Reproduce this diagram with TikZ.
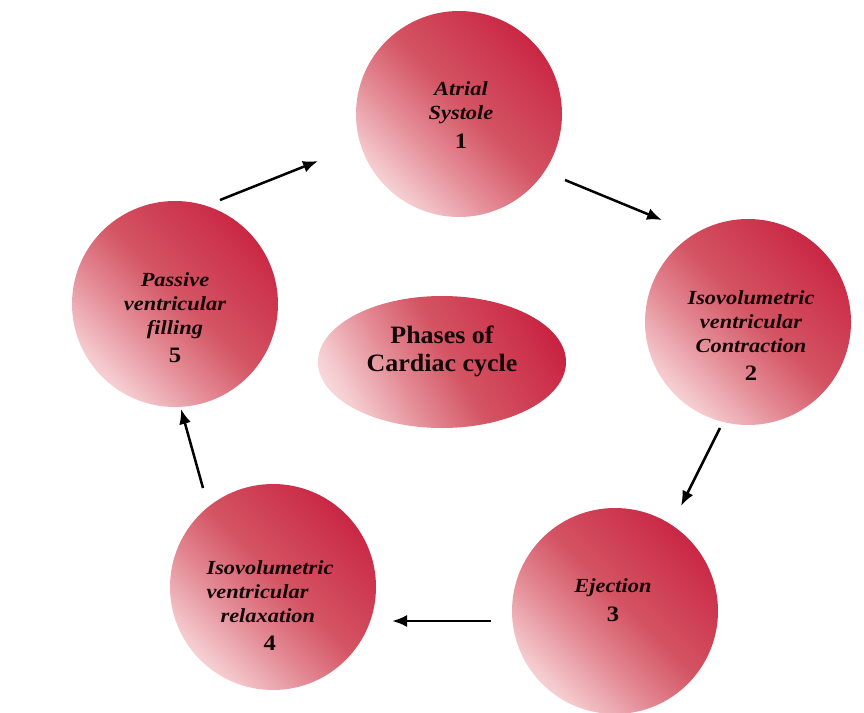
\documentclass[tikz,border=0pt]{standalone}
\usepackage{fontspec}
\setmainfont{Liberation Serif}
\newfontfamily\lblfont[FakeStretch=1.12]{Liberation Serif}
\newfontfamily\hubfont[FakeStretch=1.04]{Liberation Serif}
\usetikzlibrary{shapes.geometric,arrows.meta}
\definecolor{ctext}{RGB}{20,5,8}
\pgfdeclareverticalshading{redball}{100bp}{
  rgb(0bp)=(0.992,0.957,0.957);
  rgb(14bp)=(0.992,0.957,0.957);
  rgb(26bp)=(0.960,0.800,0.815);
  rgb(39bp)=(0.894,0.549,0.588);
  rgb(52bp)=(0.831,0.333,0.392);
  rgb(70bp)=(0.800,0.196,0.294);
  rgb(86bp)=(0.769,0.055,0.212);
  rgb(100bp)=(0.769,0.055,0.212)}
\tikzset{
  phase/.style={circle, minimum size=206pt, inner sep=0pt, draw=none,
    shading=redball, shading angle=-45},
  hub/.style={ellipse, minimum width=248pt, minimum height=132pt, inner sep=0pt, draw=none,
    shading=redball, shading angle=-60},
  lbl/.style={text=ctext, align=center, font=\lblfont\fontsize{20}{24}\selectfont\bfseries\itshape},
  lbll/.style={lbl, align=left},
  hubtxt/.style={text=ctext, align=center, font=\hubfont\fontsize{25}{28}\selectfont\bfseries},
  arr/.style={line width=2.5pt, -{Latex[length=15pt,width=12pt]}}
}
\newcommand{\phnum}[1]{{\fontsize{22}{24}\selectfont\upshape #1}}
\begin{document}
\begin{tikzpicture}[x=1pt,y=-1pt]
\useasboundingbox (0,0) rectangle (864,712);
\clip (0,0) rectangle (864,712);
% circles
\node[phase] (p1) at (459,114) {};
\node[phase] (p2) at (748,322) {};
\node[phase] (p3) at (615,611) {};
\node[phase] (p4) at (273,587) {};
\node[phase] (p5) at (175,304) {};
\node[hub] (hub) at (442,362) {};
% texts
\node[lbl] (t1) at (461,115) {Atrial\\Systole\\[5pt]\phnum{1}};
\node[lbl] (t2) at (751,336) {Isovolumetric\\ventricular\\Contraction\\[4pt]\phnum{2}};
\node[lbl] (t3) at (613,600) {Ejection\\[5pt]\phnum{3}};
\node[lbll] (t4) at (270,606) {Isovolumetric\\ventricular\\\hspace*{14pt}relaxation\\[4pt]\hspace*{57pt}\phnum{4}};
\node[lbl] (t5) at (175,318) {Passive\\ventricular\\filling\\[4pt]\phnum{5}};
\node[hubtxt] (t0) at (442,351) {Phases of\\Cardiac cycle};
% arrow end points
\coordinate (a1s) at (220,200); \coordinate (a1e) at (318,161);
\coordinate (a2s) at (565,180); \coordinate (a2e) at (662,220);
\coordinate (a3s) at (720,428); \coordinate (a3e) at (681,506);
\coordinate (a4s) at (491,621); \coordinate (a4e) at (392,621);
\coordinate (a5s) at (203,488); \coordinate (a5e) at (181,409);
\draw[arr] (a1s) -- (a1e);
\draw[arr] (a2s) -- (a2e);
\draw[arr] (a3s) -- (a3e);
\draw[arr] (a4s) -- (a4e);
\draw[arr] (a5s) -- (a5e);
\end{tikzpicture}
\end{document}
